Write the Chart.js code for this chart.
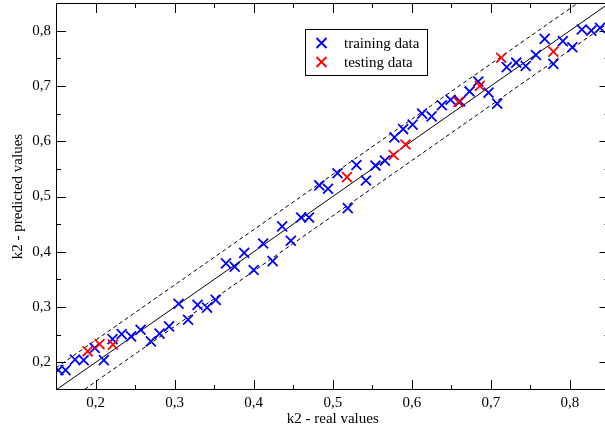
<!DOCTYPE html>
<html>
<head>
<meta charset="utf-8">
<script src="https://cdn.jsdelivr.net/npm/chart.js@4.4.0/dist/chart.umd.min.js"></script>
<style>
  html, body { margin: 0; padding: 0; background: #fff; overflow: hidden; }
</style>
</head>
<body>
<canvas id="myChart" width="610" height="434"></canvas>
<script>
// training data
const trainX = [0.153, 0.162, 0.174, 0.185, 0.199, 0.2105, 0.2215, 0.233, 0.245, 0.257,
  0.270, 0.281, 0.293, 0.305, 0.317, 0.329, 0.341, 0.352, 0.365, 0.376,
  0.388, 0.400, 0.412, 0.424, 0.436, 0.447, 0.460, 0.470, 0.483, 0.494,
  0.506, 0.519, 0.530, 0.542, 0.554, 0.566, 0.578, 0.589, 0.601, 0.613,
  0.625, 0.638, 0.649, 0.661, 0.673, 0.684, 0.697, 0.708, 0.720, 0.732,
  0.744, 0.757, 0.768, 0.779, 0.791, 0.803, 0.815, 0.827, 0.838];
const trainY = [0.186, 0.186, 0.205, 0.204, 0.226, 0.204, 0.242, 0.251, 0.247, 0.259,
  0.238, 0.252, 0.265, 0.306, 0.277, 0.304, 0.299, 0.313, 0.379, 0.373,
  0.398, 0.367, 0.415, 0.383, 0.446, 0.420, 0.462, 0.462, 0.520, 0.514,
  0.542, 0.479, 0.557, 0.529, 0.556, 0.565, 0.607, 0.622, 0.630, 0.650,
  0.645, 0.665, 0.675, 0.672, 0.690, 0.708, 0.688, 0.668, 0.734, 0.742,
  0.736, 0.756, 0.785, 0.740, 0.781, 0.770, 0.802, 0.800, 0.805];

// testing data
const testX = [0.190, 0.205, 0.222, 0.518, 0.577, 0.592, 0.659, 0.686, 0.713, 0.779];
const testY = [0.220, 0.233, 0.232, 0.535, 0.575, 0.594, 0.671, 0.700, 0.751, 0.762];

// reference lines (endpoints)
const diagX = [0.15, 0.85];
const diagY = [0.15, 0.85];
const upperY = [0.19, 0.89];
const lowerY = [0.115, 0.815];

// ticks
const majorTicks = [0.2, 0.3, 0.4, 0.5, 0.6, 0.7, 0.8];
const minorTicks = [0.25, 0.35, 0.45, 0.55, 0.65, 0.75];

const FONT = '"Liberation Serif", "Times New Roman", serif';

function pts(xs, ys) {
  return xs.map((v, i) => ({ x: v, y: ys[i] }));
}

const frame = {
  id: 'frame',
  afterDatasetsDraw(chart) {
    const { ctx, chartArea: a, scales: { x, y } } = chart;
    ctx.save();
    ctx.strokeStyle = '#000';
    ctx.lineWidth = 1;
    ctx.beginPath();
    const tick = (vals, len) => {
      vals.forEach(v => {
        const px = Math.round(x.getPixelForValue(v)) + 0.5;
        ctx.moveTo(px, a.bottom); ctx.lineTo(px, a.bottom - len);
        ctx.moveTo(px, a.top); ctx.lineTo(px, a.top + len);
        const py = Math.round(y.getPixelForValue(v)) + 0.5;
        ctx.moveTo(a.left, py); ctx.lineTo(a.left + len, py);
        ctx.moveTo(a.right, py); ctx.lineTo(a.right - len, py);
      });
    };
    tick(majorTicks, 10);
    tick(minorTicks, 5);
    ctx.stroke();
    ctx.strokeRect(a.left + 0.5, a.top + 0.5, a.right - a.left - 1, a.bottom - a.top - 1);
    ctx.restore();
  },
  afterDraw(chart) {
    // legend box inside the plot
    const ctx = chart.ctx;
    const items = chart.data.datasets.filter(d => d.label);
    items.reverse();
    ctx.save();
    ctx.fillStyle = '#fff';
    ctx.fillRect(305.5, 29.5, 122, 46);
    ctx.strokeStyle = '#000';
    ctx.lineWidth = 1;
    ctx.strokeRect(305.5, 29.5, 122, 46);
    ctx.font = '15px ' + FONT;
    ctx.textBaseline = 'middle';
    items.forEach((d, i) => {
      const cy = 43 + i * 19;
      const cx = 321.5;
      ctx.strokeStyle = d.borderColor;
      ctx.lineWidth = d.borderWidth;
      ctx.beginPath();
      ctx.moveTo(cx - 5, cy - 5); ctx.lineTo(cx + 5, cy + 5);
      ctx.moveTo(cx - 5, cy + 5); ctx.lineTo(cx + 5, cy - 5);
      ctx.stroke();
      ctx.fillStyle = '#000';
      ctx.fillText(d.label, 344, cy + 1);
    });
    ctx.restore();
  }
};

const noPad = s => { s.paddingTop = 0; s.paddingBottom = 0; s.paddingLeft = 0; s.paddingRight = 0; };

const scatterStyle = {
  pointStyle: 'crossRot',
  pointRadius: 7,
  borderWidth: 1.8,
  showLine: false
};

const config = {
  type: 'scatter',
  data: {
    datasets: [
      { label: 'testing data', data: pts(testX, testY), borderColor: '#ff0000', backgroundColor: '#ff0000', order: 0, ...scatterStyle },
      { label: 'training data', data: pts(trainX, trainY), borderColor: '#0000ff', backgroundColor: '#0000ff', order: 1, ...scatterStyle },
      { data: pts(diagX, diagY), showLine: true, borderColor: '#000', borderWidth: 1, pointRadius: 0, order: 2 },
      { data: pts(diagX, upperY), showLine: true, borderColor: '#000', borderWidth: 1, borderDash: [4, 3], pointRadius: 0, order: 2 },
      { data: pts(diagX, lowerY), showLine: true, borderColor: '#000', borderWidth: 1, borderDash: [4, 3], pointRadius: 0, order: 2 }
    ]
  },
  options: {
    responsive: false,
    animation: false,
    events: [],
    layout: { autoPadding: false, padding: { top: 3, right: 0.5, left: 0, bottom: 0 } },
    plugins: { legend: { display: false }, tooltip: { enabled: false } },
    scales: {
      x: {
        type: 'linear',
        min: 0.15,
        max: 0.85,
        grid: { display: false, drawTicks: false },
        border: { display: false },
        afterBuildTicks: s => { s.ticks = majorTicks.map(v => ({ value: v })); },
        afterFit: s => { s.height = 44; noPad(s); },
        ticks: {
          padding: 4,
          color: '#000',
          font: { family: FONT, size: 15 },
          callback: v => v.toFixed(1).replace('.', ',')
        },
        title: {
          display: true,
          text: 'k2 - real values',
          color: '#000',
          font: { family: FONT, size: 15 },
          padding: { top: 0, bottom: 6 }
        }
      },
      y: {
        type: 'linear',
        min: 0.15,
        max: 0.85,
        grid: { display: false, drawTicks: false },
        border: { display: false },
        afterBuildTicks: s => { s.ticks = majorTicks.map(v => ({ value: v })); },
        afterFit: s => { s.width = 56; noPad(s); },
        ticks: {
          padding: 5,
          color: '#000',
          font: { family: FONT, size: 15 },
          callback: v => v.toFixed(1).replace('.', ',')
        },
        title: {
          display: true,
          text: 'k2 - predicted values',
          color: '#000',
          font: { family: FONT, size: 15 },
          padding: { top: 9, bottom: 0 }
        }
      }
    }
  },
  plugins: [frame]
};

const myChart = new Chart(document.getElementById('myChart'), config);
</script>
</body>
</html>
